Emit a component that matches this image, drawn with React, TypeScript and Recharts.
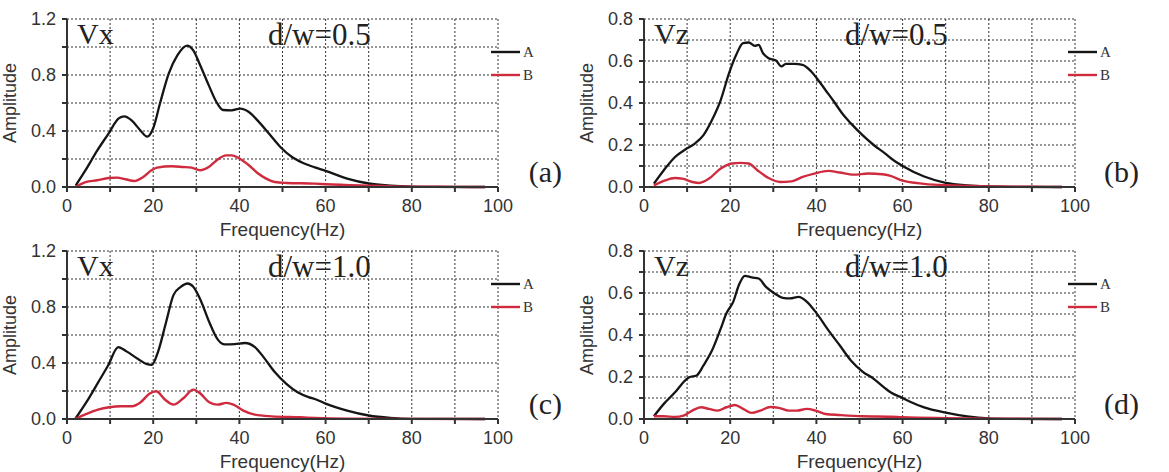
import { LineChart, Line, XAxis, YAxis, CartesianGrid, Legend } from 'recharts'

// frequency (Hz) / amplitude pairs
// panel (a): Vx, d/w=0.5
const freqA_a = [2, 4.3, 7, 9.6, 12, 13.3, 15, 17, 18.6, 20, 21.6, 23.6, 25.6, 27.9, 29.3, 30.9, 32.9, 34.9, 36.2, 38.2, 40.2, 42.2, 44.2, 46.9, 49.5, 52.2, 54.9, 57.5, 60, 65, 70, 75, 80, 85, 97]
const ampA_a = [0.01, 0.12, 0.26, 0.38, 0.49, 0.505, 0.476, 0.405, 0.36, 0.42, 0.6, 0.81, 0.94, 1.01, 0.976, 0.87, 0.726, 0.595, 0.55, 0.548, 0.56, 0.536, 0.476, 0.38, 0.286, 0.214, 0.17, 0.14, 0.115, 0.06, 0.025, 0.01, 0.003, 0.001, 0]
const freqB_a = [2, 4.3, 7, 9.6, 11.6, 13.6, 15.6, 17.6, 19.6, 20.9, 24.3, 26.9, 28.9, 30.9, 32.9, 34.9, 36.9, 38.2, 40.2, 42.2, 44.2, 46.2, 48.2, 50.9, 57.5, 60, 70, 80, 90, 97]
const ampB_a = [0, 0.035, 0.048, 0.064, 0.067, 0.055, 0.043, 0.07, 0.12, 0.138, 0.148, 0.143, 0.138, 0.12, 0.143, 0.195, 0.226, 0.226, 0.2, 0.155, 0.1, 0.06, 0.036, 0.029, 0.024, 0.02, 0.01, 0.003, 0.001, 0]

// panel (b): Vz, d/w=0.5
const freqA_b = [2.3, 4.6, 7.2, 9.9, 11.8, 13.8, 15.8, 17.8, 19.7, 21.4, 23, 24.3, 25.7, 26.6, 27.6, 28.9, 30.6, 31.9, 32.9, 34.9, 36.8, 38.8, 40.1, 42.1, 44.1, 46, 48, 50.7, 53.3, 55.9, 57.2, 60, 65, 70, 75, 80, 85, 97]
const ampA_b = [0.016, 0.08, 0.143, 0.183, 0.207, 0.247, 0.32, 0.414, 0.54, 0.63, 0.685, 0.688, 0.672, 0.677, 0.637, 0.613, 0.602, 0.574, 0.586, 0.586, 0.582, 0.55, 0.518, 0.462, 0.406, 0.35, 0.303, 0.247, 0.2, 0.16, 0.138, 0.1, 0.05, 0.02, 0.008, 0.003, 0.001, 0]
const freqB_b = [2.3, 4.6, 7.2, 8.9, 11.2, 12.8, 15.1, 17.8, 20.4, 22.4, 24.3, 26.3, 28.9, 31.6, 34.2, 36.8, 39.5, 42.8, 45.4, 48.7, 52, 55.3, 57.2, 60, 65, 70, 80, 90, 97]
const ampB_b = [0.008, 0.029, 0.043, 0.04, 0.024, 0.019, 0.04, 0.088, 0.112, 0.115, 0.112, 0.08, 0.043, 0.024, 0.027, 0.048, 0.064, 0.077, 0.069, 0.059, 0.064, 0.061, 0.053, 0.03, 0.015, 0.008, 0.003, 0.001, 0]

// panel (c): Vx, d/w=1.0
const freqA_c = [1.9, 4.5, 7.2, 9.5, 11.9, 13.8, 16.4, 18.4, 19.7, 21.1, 23, 24.7, 26.4, 28, 29.3, 31, 33, 35, 36.6, 38.9, 41.3, 43.6, 45.6, 48.2, 50.9, 53.5, 56.2, 57.5, 60, 65, 70, 75, 80, 97]
const ampA_c = [0, 0.12, 0.26, 0.38, 0.514, 0.483, 0.43, 0.394, 0.387, 0.478, 0.693, 0.885, 0.944, 0.968, 0.944, 0.849, 0.693, 0.567, 0.533, 0.535, 0.543, 0.514, 0.442, 0.335, 0.251, 0.191, 0.155, 0.143, 0.11, 0.06, 0.025, 0.008, 0.001, 0]
const freqB_c = [1.9, 4.5, 7.2, 9.8, 12.5, 15.1, 17.1, 19.1, 20.7, 22.7, 24.7, 27, 29.3, 31, 33, 35, 37, 38.6, 40.9, 43.6, 47.5, 54.2, 57.5, 65, 97]
const ampB_c = [0, 0.036, 0.067, 0.084, 0.091, 0.091, 0.12, 0.18, 0.198, 0.139, 0.103, 0.148, 0.21, 0.18, 0.12, 0.103, 0.115, 0.103, 0.06, 0.031, 0.019, 0.012, 0.007, 0.002, 0]

// panel (d): Vz, d/w=1.0
const freqA_d = [2.3, 4.6, 7.2, 9.5, 10.5, 12.2, 13.8, 15.8, 17.8, 19.1, 20.7, 22, 23.4, 25, 26.6, 28.3, 30.3, 32.2, 33.9, 35.9, 37.8, 40.1, 42.8, 45.4, 48, 50.7, 53.3, 55.9, 57.2, 60, 62, 65, 70, 75, 80, 85, 97]
const ampA_d = [0.013, 0.072, 0.127, 0.183, 0.199, 0.207, 0.255, 0.327, 0.43, 0.502, 0.558, 0.637, 0.682, 0.674, 0.669, 0.629, 0.598, 0.577, 0.574, 0.582, 0.558, 0.502, 0.422, 0.351, 0.279, 0.226, 0.191, 0.147, 0.127, 0.1, 0.08, 0.055, 0.03, 0.012, 0.003, 0.001, 0]
const freqB_d = [2.3, 4.6, 7.2, 9.2, 11.2, 13.2, 15.1, 17.1, 19.1, 21.1, 23, 25, 27, 29.3, 31.3, 33.6, 35.5, 37.8, 39.8, 42.1, 45.4, 50.7, 57.2, 60, 70, 80, 97]
const ampB_d = [0.013, 0.013, 0.01, 0.016, 0.04, 0.056, 0.048, 0.04, 0.056, 0.067, 0.048, 0.029, 0.04, 0.057, 0.053, 0.04, 0.04, 0.048, 0.04, 0.024, 0.019, 0.013, 0.011, 0.008, 0.004, 0.002, 0]

const xTicks = [0, 10, 20, 30, 40, 50, 60, 70, 80, 90, 100]
const vxTicks = [0, 0.2, 0.4, 0.6, 0.8, 1.0, 1.2]
const vzTicks = [0, 0.1, 0.2, 0.3, 0.4, 0.5, 0.6, 0.7, 0.8]
const xLabelTicks = [0, 20, 40, 60, 80, 100]
const vxLabelTicks = [0, 0.4, 0.8, 1.2]
const vzLabelTicks = [0, 0.2, 0.4, 0.6, 0.8]
const seriesNames = ['A', 'B']

const BLACK = '#151515'
const RED = '#cf2a3e'
const AXIS = '#333'
const SANS = '"Liberation Sans", Arial, sans-serif'
const SERIF = '"Liberation Serif", "Times New Roman", serif'

const W = 580
const H = 240

const zip = (f: number[], a: number[]) => f.map((x, i) => ({ f: x, v: a[i] }))

function LegendBox() {
  return (
    <svg width={70} height={50} style={{ display: 'block', overflow: 'visible' }}>
      {seriesNames.map((n, i) => (
        <g key={n}>
          <line x1={3} x2={32} y1={6 + i * 23} y2={6 + i * 23} stroke={i === 0 ? BLACK : RED} strokeWidth={2.4} />
          <text x={35} y={11 + i * 23} fontFamily={SERIF} fontSize={15} fill="#333">{n}</text>
        </g>
      ))}
    </svg>
  )
}

type PanelProps = {
  left: number
  top: number
  comp: string
  ratio: string
  tag: string
  dataA: { f: number; v: number }[]
  dataB: { f: number; v: number }[]
  yTicks: number[]
  yLabelTicks: number[]
  yMax: number
}

function Panel({ left, top, comp, ratio, tag, dataA, dataB, yTicks, yLabelTicks, yMax }: PanelProps) {
  return (
    <div style={{ position: 'absolute', left, top, width: W, height: H }}>
      <LineChart width={W} height={H} margin={{ top: 19, right: 12, bottom: 4, left: 0 }}>
        <CartesianGrid stroke="#333" strokeDasharray="2 2" strokeWidth={1} />
        <XAxis
          type="number"
          dataKey="f"
          domain={[0, 100]}
          ticks={xTicks}
          tickFormatter={(v: number) => (xLabelTicks.includes(v) ? String(v) : '')}
          tick={{ fontSize: 18, fontFamily: SANS, fill: '#333' }}
          tickSize={5}
          tickMargin={7}
          stroke={AXIS}
          strokeWidth={2}
          height={49}
          label={{ value: 'Frequency(Hz)', position: 'insideBottom', offset: 0, style: { fontSize: 19, fontFamily: SANS, fill: '#333' } }}
        />
        <YAxis
          type="number"
          domain={[0, yMax]}
          ticks={yTicks}
          tickFormatter={(v: number) => (yLabelTicks.some((t) => Math.abs(t - v) < 1e-6) ? v.toFixed(1) : '')}
          tick={{ fontSize: 18, fontFamily: SANS, fill: '#333' }}
          tickSize={5}
          tickMargin={6}
          stroke={AXIS}
          strokeWidth={2}
          width={67}
          label={{ value: 'Amplitude', angle: -90, position: 'insideLeft', offset: 10, style: { textAnchor: 'middle', fontSize: 18, fontFamily: SANS, fill: '#333' } }}
        />
        <Legend
          layout="vertical"
          align="right"
          verticalAlign="top"
          wrapperStyle={{ position: 'absolute', left: 488, top: 46, width: 70, height: 50 }}
          content={() => <LegendBox />}
        />
        <Line data={dataA} dataKey="v" name="A" type="monotone" stroke={BLACK} strokeWidth={2.3} dot={false} isAnimationActive={false} />
        <Line data={dataB} dataKey="v" name="B" type="monotone" stroke={RED} strokeWidth={2.4} dot={false} isAnimationActive={false} />
      </LineChart>
      <svg width={W} height={H} style={{ position: 'absolute', left: 0, top: 0, pointerEvents: 'none' }}>
        <text x={77} y={44} fontFamily={SERIF} fontSize={30} fill="#222">{comp}</text>
        <text x={268} y={45} fontFamily={SERIF} fontSize={31} fill="#222">{ratio}</text>
        <text x={562} y={182} fontFamily={SERIF} fontSize={30} fill="#222" textAnchor="end">{tag}</text>
      </svg>
    </div>
  )
}

export default function App() {
  return (
    <div style={{ position: 'absolute', left: 0, top: 0, width: 1169, height: 472, background: '#fff' }}>
      <Panel left={0} top={0} comp="Vx" ratio="d/w=0.5" tag="(a)" dataA={zip(freqA_a, ampA_a)} dataB={zip(freqB_a, ampB_a)} yTicks={vxTicks} yLabelTicks={vxLabelTicks} yMax={1.2} />
      <Panel left={577} top={0} comp="Vz" ratio="d/w=0.5" tag="(b)" dataA={zip(freqA_b, ampA_b)} dataB={zip(freqB_b, ampB_b)} yTicks={vzTicks} yLabelTicks={vzLabelTicks} yMax={0.8} />
      <Panel left={0} top={232} comp="Vx" ratio="d/w=1.0" tag="(c)" dataA={zip(freqA_c, ampA_c)} dataB={zip(freqB_c, ampB_c)} yTicks={vxTicks} yLabelTicks={vxLabelTicks} yMax={1.2} />
      <Panel left={577} top={232} comp="Vz" ratio="d/w=1.0" tag="(d)" dataA={zip(freqA_d, ampA_d)} dataB={zip(freqB_d, ampB_d)} yTicks={vzTicks} yLabelTicks={vzLabelTicks} yMax={0.8} />
    </div>
  )
}
